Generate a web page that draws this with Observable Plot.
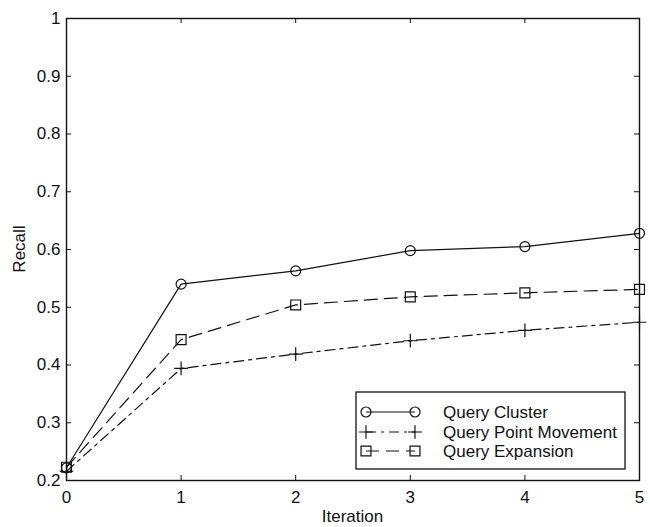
<!DOCTYPE html>
<html>
<head>
<meta charset="utf-8">
<script src="https://cdn.jsdelivr.net/npm/d3@7"></script>
<script src="https://cdn.jsdelivr.net/npm/@observablehq/plot@0.6"></script>
<style>
  html, body { margin: 0; padding: 0; background: #fff; }
  #chart { width: 650px; height: 527px; }
</style>
</head>
<body>
<div id="chart"></div>
<script>
const iterations = [0, 1, 2, 3, 4, 5];
const queryCluster = [0.222, 0.540, 0.563, 0.598, 0.605, 0.628];
const queryPointMovement = [0.216, 0.394, 0.419, 0.442, 0.460, 0.474];
const queryExpansion = [0.223, 0.444, 0.504, 0.518, 0.525, 0.531];
const seriesNames = ["Query Cluster", "Query Point Movement", "Query Expansion"];
const xTicks = [0, 1, 2, 3, 4, 5];
const yTicks = [0.2, 0.3, 0.4, 0.5, 0.6, 0.7, 0.8, 0.9, 1];
const xLabel = "Iteration";
const yLabel = "Recall";

const font = "'Liberation Sans', Arial, Helvetica, sans-serif";
const W = 650, H = 527;
const mL = 66, mR = 11, mT = 18, mB = 47;
const innerW = W - mL - mR, innerH = H - mT - mB;
const tickLen = 5;

const seriesValues = [queryCluster, queryPointMovement, queryExpansion];
const styles = [
  {dash: null, symbol: "circle", r: 5},
  {dash: "10,5,3,5", symbol: "plus", r: 4.5},
  {dash: "13,7", symbol: "square", r: 5.6}
];
const rows = seriesValues.map(vals => iterations.map((x, i) => ({x, y: vals[i]})));

const lineMarks = [];
rows.forEach((data, k) => {
  lineMarks.push(Plot.line(data, {x: "x", y: "y", stroke: "#111", strokeWidth: 1.2,
    strokeDasharray: styles[k].dash}));
  lineMarks.push(Plot.dot(data, {x: "x", y: "y", symbol: () => styles[k].symbol, r: styles[k].r,
    stroke: "#111", strokeWidth: 1.2, fill: "none"}));
});

const plot = Plot.plot({
  width: W, height: H,
  marginLeft: mL, marginRight: mR, marginTop: mT, marginBottom: mB,
  x: {domain: [0, 5]},
  y: {domain: [0.2, 1]},
  symbol: {range: ["circle", "plus", "square"], domain: ["circle", "plus", "square"]},
  style: {fontFamily: font, fontSize: "17px", color: "#111", background: "#fff", overflow: "visible"},
  marks: [
    Plot.axisX(xTicks, {tickSize: 0, tickPadding: 10, label: null, tickFormat: d => String(d)}),
    Plot.axisY(yTicks, {tickSize: 0, tickPadding: 6, label: null, tickFormat: d => String(+d.toFixed(1))}),
    Plot.tickX(xTicks, {x: d => d, insetTop: innerH - tickLen, stroke: "#111"}),
    Plot.tickX(xTicks, {x: d => d, insetBottom: innerH - tickLen, stroke: "#111"}),
    Plot.tickY(yTicks, {y: d => d, insetRight: innerW - tickLen, stroke: "#111"}),
    Plot.tickY(yTicks, {y: d => d, insetLeft: innerW - tickLen, stroke: "#111"}),
    ...lineMarks,
    Plot.frame({stroke: "#111", strokeWidth: 1.4})
  ]
});

document.getElementById("chart").appendChild(plot);

const svg = d3.select(plot);
// axis titles
svg.append("text")
  .attr("x", mL + innerW / 2).attr("y", H - 5)
  .attr("text-anchor", "middle").attr("fill", "#111")
  .style("font-family", font).style("font-size", "17px")
  .text(xLabel);
svg.append("text")
  .attr("transform", `translate(25,${mT + innerH / 2}) rotate(-90)`)
  .attr("text-anchor", "middle").attr("fill", "#111")
  .style("font-family", font).style("font-size", "17px")
  .text(yLabel);

// legend
const lg = svg.append("g").attr("text-anchor", "start");
const bx = 356, by = 392, bw = 269, bh = 77;
lg.append("rect").attr("x", bx).attr("y", by).attr("width", bw).attr("height", bh)
  .attr("fill", "#fff").attr("stroke", "#111").attr("stroke-width", 1.3);
const rowY = [412, 432, 451];
const symMap = {circle: d3.symbolCircle, plus: d3.symbolPlus, square: d3.symbolSquare};
seriesNames.forEach((name, k) => {
  const y = rowY[k];
  const x1 = 366, x2 = 415;
  lg.append("line").attr("x1", x1).attr("x2", x2).attr("y1", y).attr("y2", y)
    .attr("stroke", "#111").attr("stroke-width", 1.2)
    .attr("stroke-dasharray", styles[k].dash);
  const size = Math.PI * styles[k].r * styles[k].r;
  [x1, x2].forEach(x => {
    lg.append("path").attr("d", d3.symbol(symMap[styles[k].symbol], size)())
      .attr("transform", `translate(${x},${y})`)
      .attr("fill", "none").attr("stroke", "#111").attr("stroke-width", 1.2);
  });
  lg.append("text").attr("x", 443).attr("y", y).attr("dy", "0.35em")
    .attr("text-anchor", "start")
    .attr("fill", "#111").style("font-family", font).style("font-size", "17px")
    .text(name);
});
</script>
</body>
</html>
